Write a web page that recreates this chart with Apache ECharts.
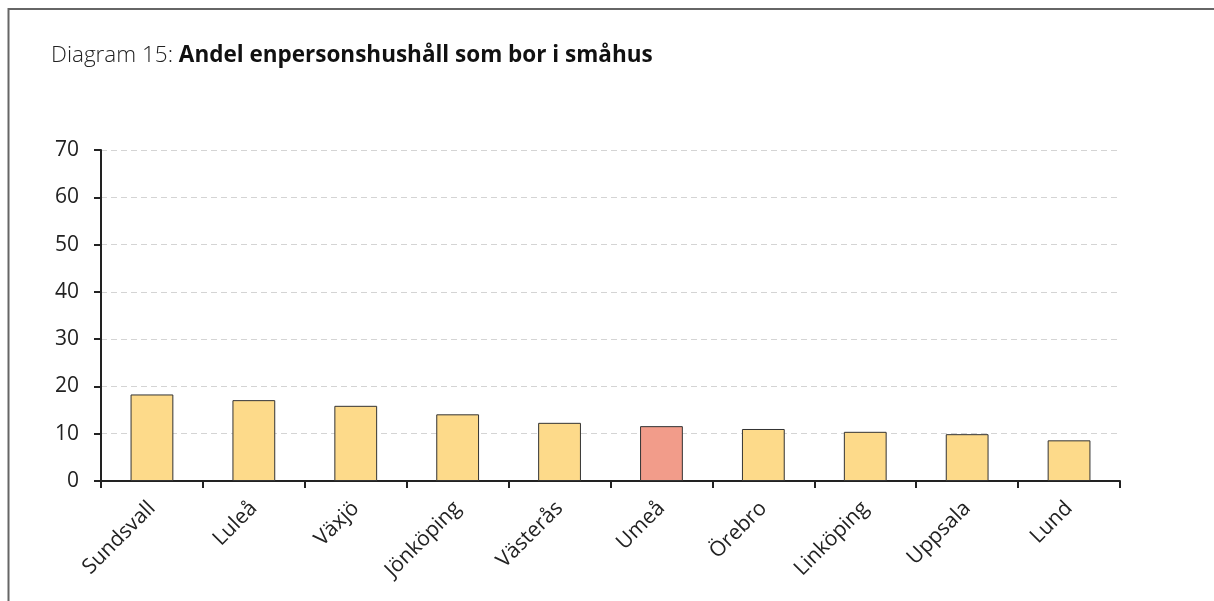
<!DOCTYPE html>
<html>
<head>
<meta charset="utf-8">
<script src="https://cdn.jsdelivr.net/npm/echarts@6/dist/echarts.min.js"></script>
<style>
  html, body { margin: 0; padding: 0; background: #fff; }
  #main { width: 1214px; height: 601px; }
</style>
</head>
<body>
<div id="main"></div>
<script>
// andel enpersonshushåll som bor i småhus (%)
const cities = ['Sundsvall', 'Luleå', 'Växjö', 'Jönköping', 'Västerås', 'Umeå', 'Örebro', 'Linköping', 'Uppsala', 'Lund'];
const shares = [18.3, 17.1, 15.9, 14.1, 12.3, 11.6, 11.0, 10.4, 9.9, 8.6];
const highlight = 'Umeå';

const chart = echarts.init(document.getElementById('main'));

const option = {
  animation: false,
  textStyle: { fontFamily: 'Open Sans, Noto Sans, sans-serif' },
  title: {
    text: '{n|Diagram 15: }{b|Andel enpersonshushåll som bor i småhus}',
    left: 46,
    top: 39,
    textStyle: {
      rich: {
        n: { fontSize: 22.5, color: '#222', fontFamily: 'Open Sans', fontWeight: 300 },
        b: { fontSize: 22.5, color: '#111', fontFamily: 'Open Sans', fontWeight: 'bold' }
      }
    }
  },
  graphic: [
    {
      type: 'polyline',
      shape: { points: [[8.5, 601], [8.5, 9], [1214, 9]] },
      style: { stroke: '#666', lineWidth: 2, fill: null }
    }
  ],
  grid: {
    left: 101,
    right: 94,
    top: 150,
    bottom: 120,
    containLabel: false,
    outerBoundsMode: 'none'
  },
  xAxis: {
    type: 'category',
    data: cities,
    axisLine: { lineStyle: { color: '#222', width: 2 } },
    axisTick: { show: true, length: 7, lineStyle: { color: '#222', width: 2 } },
    axisLabel: {
      rotate: 45,
      fontSize: 21,
      color: '#222',
      margin: 24,
      interval: 0
    }
  },
  yAxis: {
    type: 'value',
    min: 0,
    max: 70,
    interval: 10,
    axisLine: { show: true, lineStyle: { color: '#222', width: 2 } },
    axisTick: { show: true, length: 7, lineStyle: { color: '#222', width: 2 } },
    axisLabel: { fontSize: 21, color: '#222', margin: 22 },
    splitLine: { lineStyle: { color: '#d4d4d4', type: [6, 4], width: 1 } }
  },
  series: [
    {
      type: 'bar',
      barWidth: '42%',
      data: shares.map((v, i) => ({
        value: v,
        itemStyle: { color: cities[i] === highlight ? '#F29C8A' : '#FDDA8A' }
      })),
      itemStyle: { borderColor: '#333', borderWidth: 1 }
    }
  ]
};

chart.setOption(option);
window.addEventListener('resize', () => chart.resize(), false);
</script>
</body>
</html>
